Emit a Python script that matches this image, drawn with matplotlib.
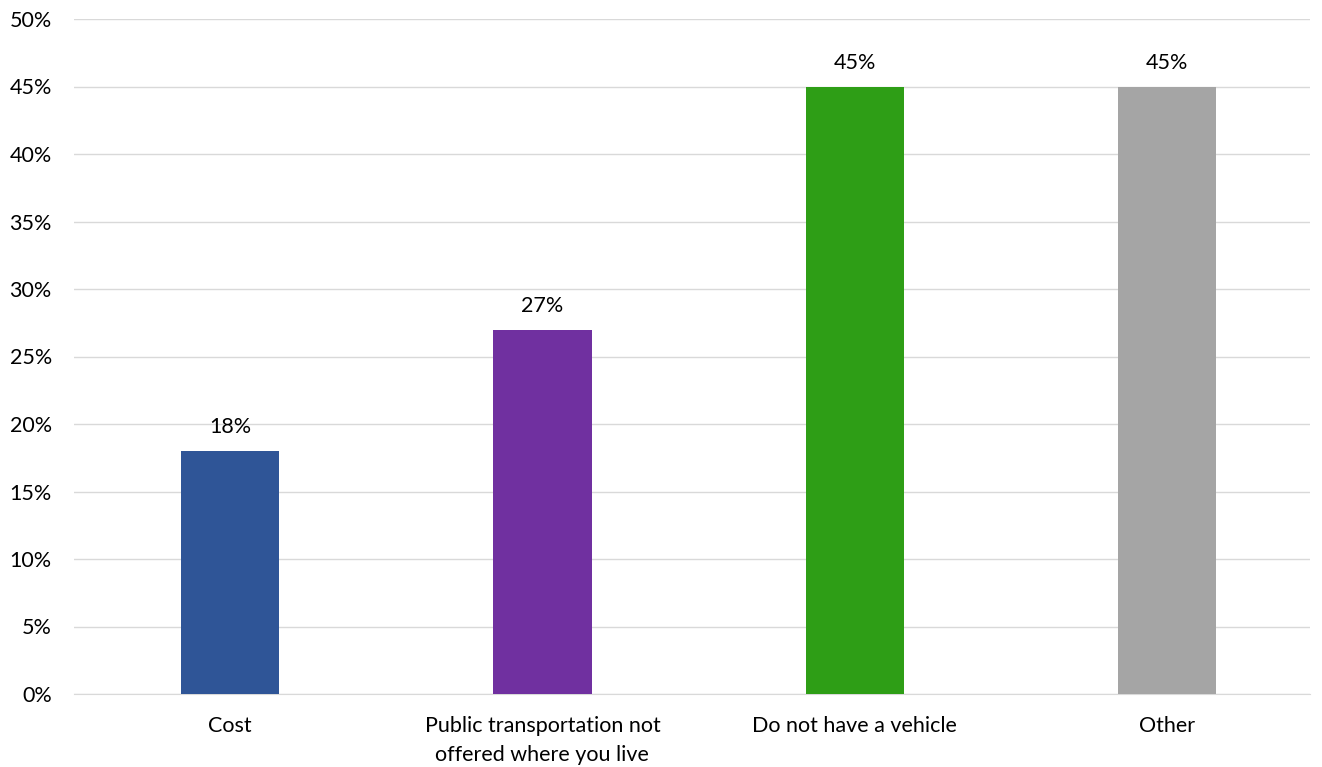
import matplotlib.pyplot as plt
import numpy as np

categories = ["Cost", "Public transportation not\noffered where you live", "Do not have a vehicle", "Other"]
values = [18, 27, 45, 45]
colors = ["#2f5597", "#7030a0", "#2e9e16", "#a5a5a5"]
yticks = list(range(0, 51, 5))

plt.rcParams['font.family'] = ['Lato', 'DejaVu Sans']
fs = 15.5

fig = plt.figure(figsize=(13.22, 7.67), dpi=100)
ax = fig.add_axes([74 / 1322, 1 - 694 / 767, (1310 - 74) / 1322, (694 - 19) / 767])

x = np.arange(len(categories))
bars = ax.bar(x, values, width=0.315, color=colors, zorder=3)

for b, v in zip(bars, values):
    ax.annotate(f"{v}%", (b.get_x() + b.get_width() / 2, v), xytext=(0, 10),
                textcoords="offset points", ha="center", va="bottom", fontsize=fs)

ax.set_ylim(0, 50)
ax.set_xlim(-0.5, 3.458)
ax.set_yticks(yticks)
ax.set_yticklabels([f"{t}%" for t in yticks], fontsize=fs)
ax.set_xticks(x)
ax.set_xticklabels(categories, fontsize=fs, linespacing=1.55)
ax.tick_params(axis="both", length=0)
ax.tick_params(axis="x", pad=16)
ax.tick_params(axis="y", pad=16)
ax.grid(axis="y", color="#d9d9d9", linewidth=1, zorder=0)
for s in ["top", "right", "left"]:
    ax.spines[s].set_visible(False)
ax.spines["bottom"].set_color("#d9d9d9")

fig.savefig("out.png", dpi=100)
